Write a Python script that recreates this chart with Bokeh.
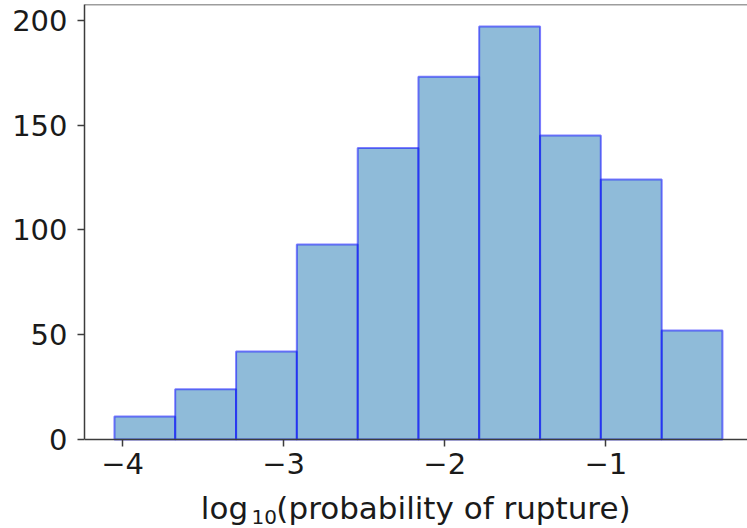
from bokeh.plotting import figure
from bokeh.models import FixedTicker, Range1d, Span, Label
from bokeh.embed import file_html
from bokeh.resources import INLINE

# Histogram of log10 rupture probabilities: bin edges and counts per bin
BIN_EDGES = [-4.050, -3.673, -3.295, -2.918, -2.540, -2.163,
             -1.786, -1.408, -1.031, -0.653, -0.276]
COUNTS = [11, 24, 42, 93, 139, 173, 197, 145, 124, 52]

X_TICKS = [-4, -3, -2, -1]
X_TICK_LABELS = {-4: "\u22124", -3: "\u22123", -2: "\u22122", -1: "\u22121"}
Y_TICKS = [0, 50, 100, 150, 200]

FONT = "DejaVu Sans"
TICK_SIZE = "29px"
LABEL_SIZE = "31px"
SUB_SIZE = "20px"
TEXT_COLOR = "#1a1a1a"
SPINE = "#3c3c3c"
Y_TOP = 207.5
# the plotting area runs down to the page edge so the axis title can sit
# below the x axis, which is pinned at zero
Y_BOTTOM = -42.45

p = figure(width=747, height=528, output_backend="svg", toolbar_location=None,
           x_range=Range1d(-4.236, -0.1204), y_range=Range1d(Y_BOTTOM, Y_TOP),
           min_border_left=84, min_border_right=0, min_border_top=4,
           min_border_bottom=0)
p.outline_line_color = None
p.grid.visible = False
p.background_fill_color = "white"
p.border_fill_color = "white"

p.quad(left=BIN_EDGES[:-1], right=BIN_EDGES[1:], bottom=0, top=COUNTS,
       fill_color="#1f77b4", fill_alpha=0.5,
       line_color="blue", line_alpha=0.5, line_width=2)

# top spine
p.add_layout(Span(location=Y_TOP, dimension="width", line_color=SPINE,
                  line_width=1.5))

for ax in (p.xaxis[0], p.yaxis[0]):
    ax.axis_line_color = SPINE
    ax.axis_line_width = 1.5
    ax.major_tick_line_color = SPINE
    ax.major_tick_line_width = 1.5
    ax.major_tick_out = 7
    ax.major_tick_in = 0
    ax.minor_tick_line_color = None
    ax.major_label_text_font = FONT
    ax.major_label_text_font_size = TICK_SIZE
    ax.major_label_text_color = TEXT_COLOR

p.xaxis.ticker = FixedTicker(ticks=X_TICKS)
p.xaxis.major_label_overrides = X_TICK_LABELS
p.xaxis.major_label_standoff = 6
p.xaxis.fixed_location = 0

p.yaxis.ticker = FixedTicker(ticks=Y_TICKS)
p.yaxis.major_label_standoff = 10
p.yaxis.bounds = (0, Y_TOP)

# x-axis title: "log" with a lowered, smaller "10", then the description
title_parts = [
    ("log", -3.514, -32.87, LABEL_SIZE),
    ("10", -3.199, -36.73, SUB_SIZE),
    ("(probability of rupture)", -3.045, -32.87, LABEL_SIZE),
]
for txt, tx, ty, size in title_parts:
    p.add_layout(Label(x=tx, y=ty, text=txt, text_font=FONT,
                       text_font_size=size, text_color=TEXT_COLOR,
                       text_baseline="middle", text_align="left"))

open("out.html", "w").write(file_html(p, INLINE))
